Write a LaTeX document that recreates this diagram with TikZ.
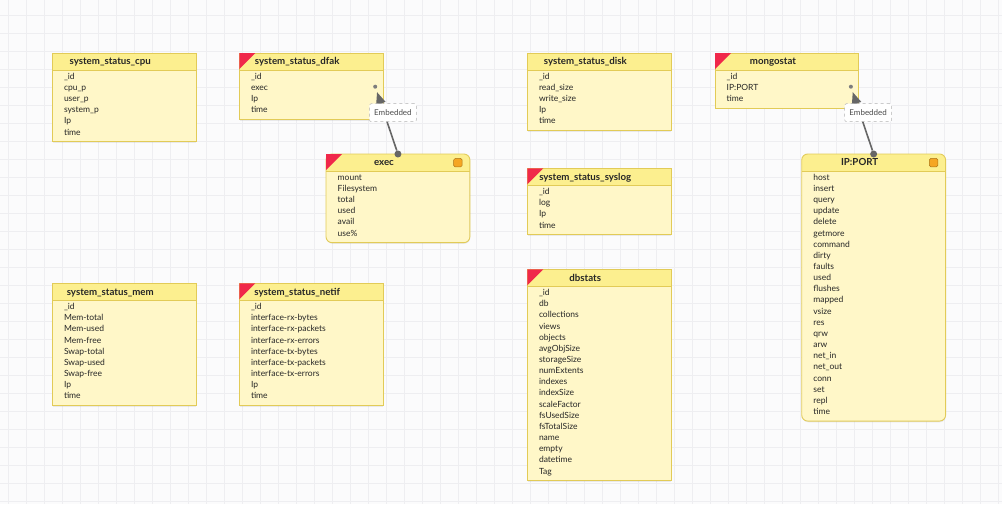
\documentclass[tikz,border=0pt]{standalone}
\usepackage{fontspec}
\setmainfont{Lato}
\usepackage{tikz}
\usetikzlibrary{arrows.meta,shadows}

\definecolor{headyellow}{HTML}{FCEF8F}
\definecolor{bodyyellow}{HTML}{FFF7C8}
\definecolor{borderyellow}{HTML}{E2CB57}
\definecolor{flagred}{HTML}{F0284A}
\definecolor{iconorange}{HTML}{F5A623}
\definecolor{arrowgray}{HTML}{666666}
\definecolor{gridgray}{HTML}{EEEEF1}
\definecolor{paper}{HTML}{FBFBFC}
\definecolor{inktext}{HTML}{262626}

\tikzset{
	squarebox/.style = {},
	roundbox/.style = {rounded corners = 6pt},
	tablebody/.style = {rectangle, fill = bodyyellow, inner sep = 0pt, minimum width = 143.5pt,
		drop shadow = {shadow xshift = 0.4pt, shadow yshift = -1.4pt, opacity = 0.14}},
	tablehead/.style = {rectangle, fill = headyellow, inner sep = 0pt, minimum width = 143.5pt, minimum height = 16.5pt},
	tableborder/.style = {draw = borderyellow, line width = 0.9pt},
	headline/.style = {draw = borderyellow, line width = 0.8pt},
	tabletitle/.style = {inner sep = 0pt, text = inktext, font = \fontsize{9.7}{11}\selectfont\bfseries},
	fieldtext/.style = {inner sep = 0pt, text = inktext, font = \fontsize{8.5}{10}\selectfont},
	iconbox/.style = {rectangle, rounded corners = 1.5pt, fill = iconorange, draw = iconorange!70!black,
		line width = 0.5pt, inner sep = 0pt, minimum size = 8.5pt},
	portdot/.style = {circle, fill = arrowgray!85, inner sep = 0pt, minimum size = 4pt},
	startdot/.style = {circle, fill = arrowgray, inner sep = 0pt, minimum size = 7pt},
	embedarrow/.style = {draw = arrowgray, line width = 1.6pt, -{Triangle[length = 12pt, width = 9.5pt]}, shorten > = 3.5pt},
	embedlabel/.style = {rectangle, rounded corners = 2pt, fill = white, draw = black!30, dashed, line width = 0.5pt,
		text = black!70, font = \fontsize{8}{9}\selectfont, minimum width = 47pt, minimum height = 18pt, inner sep = 0pt},
	gridline/.style = {draw = gridgray, line width = 0.7pt}
}

% name, left, top, number of fields, box style, title, fields
\newcommand{\dbtable}[7]{%
	\node [tablebody, #5, minimum height = {32.5+11.15*(#4-1)}, anchor = north west] (#1) at (#2,#3) {};
	\node [tablehead, #5, anchor = north west] (#1-head) at (#1.north west) {};
	\fill [headyellow] (#1-head.west) rectangle (#1-head.south east);
	\draw [headline] (#1-head.south west) -- (#1-head.south east);
	\draw [tableborder, #5] (#1.north west) rectangle (#1.south east);
	\node [tabletitle, anchor = base] (#1-title) at ([xshift = -14pt, yshift = -11.7pt]#1.north) {#6};
	\foreach \f [count = \i from 0] in {#7}
		\node [fieldtext, anchor = base west] (#1-f\i) at ([xshift = 11.5pt, yshift = {-26.3pt-11.15pt*\i}]#1.north west) {\f};
}
\newcommand{\redflag}[1]{\fill [flagred] (#1.north west) -- ++(16,0) -- ++(-16,16) -- cycle;}
\newcommand{\embedicon}[1]{\node [iconbox] (#1-icon) at ([xshift = -12pt, yshift = -8.7pt]#1.north east) {};}

\begin{document}
\begin{tikzpicture}[x = 1pt, y = -1pt]
	\useasboundingbox (0,0) rectangle (1002,504);
	\fill [paper] (0,0) rectangle (1002,504);
	\foreach \gx in {0,...,55} \draw [gridline] ({8.7+18*\gx},0) -- ({8.7+18*\gx},504);
	\foreach \gy in {0,...,27} \draw [gridline] (0,{15+18*\gy}) -- (1002,{15+18*\gy});

	\dbtable{cpu}{52.3}{53}{6}{squarebox}{system\_status\_cpu}{\_id, cpu\_p, user\_p, system\_p, Ip, time}
	\dbtable{dfak}{239.3}{53}{4}{squarebox}{system\_status\_dfak}{\_id, exec, Ip, time}
	\redflag{dfak}
	\dbtable{disk}{527.3}{53}{5}{squarebox}{system\_status\_disk}{\_id, read\_size, write\_size, Ip, time}
	\dbtable{mongostat}{715}{53}{3}{squarebox}{mongostat}{\_id, IP:PORT, time}
	\redflag{mongostat}

	\dbtable{exec}{326}{154}{6}{roundbox}{exec}{mount, Filesystem, total, used, avail, use\%}
	\redflag{exec}
	\embedicon{exec}
	\dbtable{syslog}{527.3}{168.3}{4}{squarebox}{system\_status\_syslog}{\_id, log, Ip, time}
	\redflag{syslog}
	\dbtable{ipport}{801.7}{154}{22}{roundbox}{IP:PORT}{host, insert, query, update, delete, getmore, command, dirty, faults, used, flushes, mapped, vsize, res, qrw, arw, net\_in, net\_out, conn, set, repl, time}
	\embedicon{ipport}

	\dbtable{mem}{52.3}{283.3}{9}{squarebox}{system\_status\_mem}{\_id, Mem-total, Mem-used, Mem-free, Swap-total, Swap-used, Swap-free, Ip, time}
	\dbtable{netif}{239.3}{283.3}{9}{squarebox}{system\_status\_netif}{\_id, interface-rx-bytes, interface-rx-packets, interface-rx-errors, interface-tx-bytes, interface-tx-packets, interface-tx-errors, Ip, time}
	\redflag{netif}
	\dbtable{dbstats}{527.3}{269.3}{17}{squarebox}{dbstats}{\_id, db, collections, views, objects, avgObjSize, storageSize, numExtents, indexes, indexSize, scaleFactor, fsUsedSize, fsTotalSize, name, empty, datetime, Tag}
	\redflag{dbstats}

	% embedded documents
	\node [portdot] (dfak-port) at ([xshift = -8pt, yshift = -33.7pt]dfak.north east) {};
	\node [startdot] (exec-port) at (exec.north) {};
	\draw [embedarrow] (exec-port) -- (dfak-port);
	\node [embedlabel] (exec-label) at ([xshift = -5pt, yshift = 41.3pt]exec.north) {Embedded};

	\node [portdot] (mongostat-port) at ([xshift = -8pt, yshift = -33.7pt]mongostat.north east) {};
	\node [startdot] (ipport-port) at (ipport.north) {};
	\draw [embedarrow] (ipport-port) -- (mongostat-port);
	\node [embedlabel] (ipport-label) at ([xshift = -5.5pt, yshift = 41.3pt]ipport.north) {Embedded};
\end{tikzpicture}
\end{document}
